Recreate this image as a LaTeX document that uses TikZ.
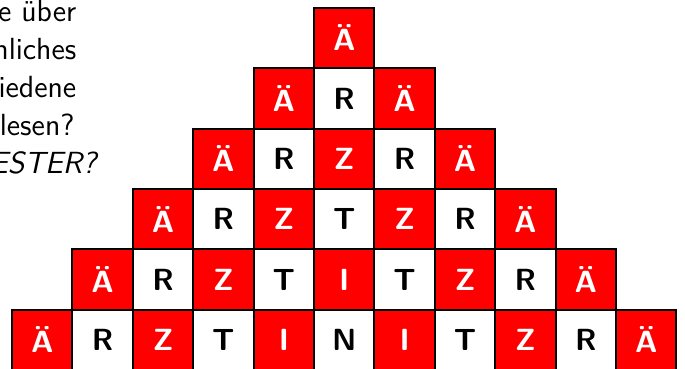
\documentclass[tikz,border=0pt]{standalone}
\usetikzlibrary{positioning}

\begin{document}
\begin{tikzpicture}[sq/.style={draw, line width=1pt, minimum size=1cm, inner sep=0pt, outer sep=0pt, font=\Large\bfseries\sffamily}, rd/.style={sq, fill=red, text=white}, wt/.style={sq, fill=white, text=black}, txt/.style={anchor=base east, inner sep=0pt, font=\Large\sffamily}]
\useasboundingbox (0,0) rectangle (11.341,-6.109);
% cut-off text at the left
\node[txt] (line1) at (1.27,-0.35) {e über};
\node[txt] (line2) at (1.27,-0.98) {nliches};
\node[txt] (line3) at (1.27,-1.61) {iedene};
\node[txt] (line4) at (1.24,-2.24) {lesen?};
\node[txt, font=\Large\sffamily\itshape] (line5) at (1.60,-2.87) {ESTER?};
% pyramid, middle column first
\node[rd] (a1) at (5.699,-0.629) {Ä};
\node[wt, below=0pt of a1] (b2) {R};
\node[rd, left=0pt of b2] (b1) {Ä};
\node[rd, right=0pt of b2] (b3) {Ä};
\node[rd, below=0pt of b2] (c3) {Z};
\node[wt, left=0pt of c3] (c2) {R};
\node[rd, left=0pt of c2] (c1) {Ä};
\node[wt, right=0pt of c3] (c4) {R};
\node[rd, right=0pt of c4] (c5) {Ä};
\node[wt, below=0pt of c3] (d4) {T};
\node[rd, left=0pt of d4] (d3) {Z};
\node[wt, left=0pt of d3] (d2) {R};
\node[rd, left=0pt of d2] (d1) {Ä};
\node[rd, right=0pt of d4] (d5) {Z};
\node[wt, right=0pt of d5] (d6) {R};
\node[rd, right=0pt of d6] (d7) {Ä};
\node[rd, below=0pt of d4] (e5) {I};
\node[wt, left=0pt of e5] (e4) {T};
\node[rd, left=0pt of e4] (e3) {Z};
\node[wt, left=0pt of e3] (e2) {R};
\node[rd, left=0pt of e2] (e1) {Ä};
\node[wt, right=0pt of e5] (e6) {T};
\node[rd, right=0pt of e6] (e7) {Z};
\node[wt, right=0pt of e7] (e8) {R};
\node[rd, right=0pt of e8] (e9) {Ä};
\node[wt, below=0pt of e5] (f6) {N};
\node[rd, left=0pt of f6] (f5) {I};
\node[wt, left=0pt of f5] (f4) {T};
\node[rd, left=0pt of f4] (f3) {Z};
\node[wt, left=0pt of f3] (f2) {R};
\node[rd, left=0pt of f2] (f1) {Ä};
\node[rd, right=0pt of f6] (f7) {I};
\node[wt, right=0pt of f7] (f8) {T};
\node[rd, right=0pt of f8] (f9) {Z};
\node[wt, right=0pt of f9] (f10) {R};
\node[rd, right=0pt of f10] (f11) {Ä};
\end{tikzpicture}
\end{document}
